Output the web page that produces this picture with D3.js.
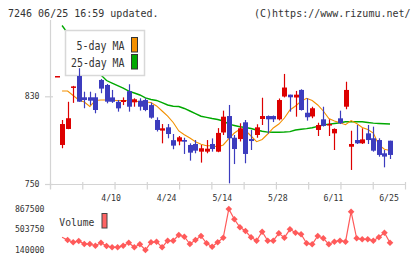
<!DOCTYPE html>
<html><head><meta charset="utf-8">
<script src="https://cdn.jsdelivr.net/npm/d3@7"></script>
<style>html,body{margin:0;padding:0;background:#fff;}svg{display:block;}</style>
</head><body>
<svg id="chart" width="420" height="259"></svg>
<script>
// ---- data ----
const dates = ["3/27","3/30","3/31","4/1","4/2","4/3","4/6","4/7","4/8","4/9","4/10","4/13","4/14","4/15","4/16","4/17","4/20","4/21","4/22","4/23","4/24","4/27","4/28","4/30","5/1","5/7","5/8","5/11","5/12","5/13","5/14","5/15","5/18","5/19","5/20","5/21","5/22","5/25","5/26","5/27","5/28","5/29","6/1","6/2","6/3","6/4","6/5","6/8","6/9","6/10","6/11","6/12","6/15","6/16","6/17","6/18","6/19","6/22","6/23","6/24","6/25"];
const openP  = [848,785.6,800.2,838,848.5,829.1,829.1,829.1,844.9,840.3,829,825,824.8,834.7,824.5,826,826.6,822,808.4,798.7,801.7,790,788.8,790.1,785.6,786.5,779.5,779.5,786.5,779.5,797,812,792.2,791,806.3,791,794.7,809.3,812,812,809,829.8,831.5,828.9,835.8,815,811.6,799.3,809,803.8,796.2,809.9,820.5,784,790.1,787.1,796.2,791.7,790.1,778,789.5];
const highP  = [848.5,808.4,825,839.5,855.6,834.2,834.2,832.8,845.8,841.2,835.8,826.6,829,841,828.2,828.2,828.2,824.2,810.8,804.7,804.7,795.6,793.8,792.2,787.1,790.1,785.6,790.1,791.6,801,816.9,822.1,794.7,805.4,808.4,799.3,804.5,828.7,812.5,812.5,828,850.4,831.5,834.9,836.4,828.2,820.5,805.9,820.5,809,800.8,816.9,843.3,798.6,803.8,800.8,803.8,802.3,791.7,781,789.5];
const lowP   = [848,782.6,800,824,825,819.1,822,814.5,832.8,823.6,824,816,822,816,820.5,817,816.4,809.6,797.9,787.1,791.7,781.7,785.3,777.4,771.3,778,769.5,778,779.5,779,794.7,750.6,768.2,788.8,768.9,781,792.2,803.8,796,806.5,808,829,816,811.4,817,807.8,810,793.8,802.4,793.8,781,804.7,818.2,762.8,786.5,786.5,786.5,779.5,774.9,765.2,772.8];
const closeP = [848.5,804.7,810,839,825.1,826.6,826,817.5,837,825.1,825,819,826.6,820.5,827.3,820.5,817.5,810.5,799.3,800.8,795.6,785,792.6,788.6,778.6,780.4,782.6,782.2,781.9,796.6,811.4,791.7,781.9,800.8,777.4,789.2,801.7,812,809,809,826.6,838,829.1,831.5,817.5,810.9,819.1,803.8,803,804.7,800.2,805.4,835.8,786.5,787.1,790.7,790.1,780.4,776.5,775,776.5];
const ma5  = [null,834.8,834.8,830.7,826.6,824.8,820.7,826.2,826.6,826.6,826.4,826.2,826.2,826.0,825.5,825.1,824.8,824.4,821.2,816.6,812.0,806.1,798.4,795.0,792.0,788.5,786.2,784.9,784.9,783.9,785.6,791.3,796.5,800.0,798.8,793.8,788.6,790.6,795.6,801.1,804.7,810.2,817.5,821.2,825.5,828.2,826.2,822.1,816.6,809.7,807.5,805.8,804.1,807.9,805.2,801.5,799.7,796.5,785.6,781.7,780.6];
const ma25 = [null,894.6,887.7,881.4,875.0,867.7,861.3,854.9,849.4,844.4,842.1,839.8,837.5,834.8,833.0,831.2,828.6,827.1,826.2,824.3,822.1,820.9,820.7,818.9,816.6,814.3,811.8,810.8,809.7,808.8,807.5,804.6,803.4,802.2,801.5,800.6,799.3,798.1,797.3,797.2,797.2,797.4,797.8,799.3,800.0,800.5,801.3,802.6,803.8,804.6,805.2,805.9,806.8,806.8,806.8,806.8,806.1,805.5,805.2,804.9,804.7];
const volume = [null,365300,317400,276600,299700,246500,246500,216300,269500,211000,187900,187900,216300,269500,187900,241100,140000,276600,287300,187900,305000,305000,406200,376000,246500,317400,388400,258900,198600,276600,358300,867500,684700,542800,477100,365300,305000,464700,305000,305000,436300,358300,507300,447000,418600,258900,241100,388400,347600,241100,287300,305000,287300,819600,347600,329900,329900,305000,365300,447000,269500];
const dateLabels = ["4/10","4/24","5/14","5/28","6/11","6/25"];
const priceTicks = [830, 750];
const volTicks = [867500, 503750, 140000];
const seriesNames = ["5-day MA","25-day MA"];
const titleLeft = "7246 06/25 16:59 updated.";
const titleRight = "(C)https://www.rizumu.net/";

// ---- drawing ----
const svg = d3.select("#chart");
svg.append("rect").attr("width",420).attr("height",259).attr("fill","#fff");
const mono = "'DejaVu Sans Mono', 'Liberation Mono', monospace";
const gridC = "#d4d4d4";
const upC = "#dd0000", downC = "#3c3cbe";
const orangeC = "#f39000", greenC = "#00a800";

const x = d3.scalePoint().domain(dates).range([56.5, 390]);
const y = d3.scaleLinear().domain([750, 830]).range([184, 96.3]);
const yv = d3.scaleLinear().domain([140000, 867500]).range([250, 209]);

// title
svg.append("text").attr("x",8).attr("y",16.5).attr("font-family",mono).attr("font-size",10)
  .attr("fill","#333").text(titleLeft);
svg.append("text").attr("x",254).attr("y",16.5).attr("font-family",mono).attr("font-size",10)
  .attr("fill","#333").text(titleRight);

// axes
const ax = svg.append("g").attr("stroke",gridC).attr("stroke-width",1.2).attr("fill","none");
ax.append("line").attr("x1",50.5).attr("x2",50.5).attr("y1",20).attr("y2",189);
ax.append("line").attr("x1",45).attr("x2",405.5).attr("y1",y(750)+0.5).attr("y2",y(750)+0.5);
const tickPos = d3.scaleLinear().domain([0,11]).range([50.5,405.5]);
d3.range(12).forEach(i=>{
  ax.append("line").attr("x1",tickPos(i)).attr("x2",tickPos(i)).attr("y1",182).attr("y2",189.5);
});
priceTicks.forEach(v=>{
  ax.append("line").attr("x1",45).attr("x2",53).attr("y1",y(v)+0.5).attr("y2",y(v)+0.5);
  svg.append("text").attr("x",39.5).attr("y",y(v)+2.8).attr("text-anchor","end")
    .attr("font-family",mono).attr("font-size",8.2).attr("fill","#333").text(v);
});
dateLabels.forEach(d=>{
  svg.append("text").attr("x",x(d)-1).attr("y",200.6).attr("text-anchor","middle")
    .attr("font-family",mono).attr("font-size",8.2).attr("fill","#333").text(d);
});

// MA lines
const idx = d3.range(dates.length);
const lineMa = arr => d3.line().defined(i=>arr[i]!=null).x(i=>x(dates[i])).y(i=>y(arr[i]));
svg.append("path").datum(idx).attr("d",lineMa(ma25)).attr("fill","none").attr("stroke",greenC).attr("stroke-width",1.4);
svg.append("path").datum(idx).attr("d",lineMa(ma5)).attr("fill","none").attr("stroke",orangeC).attr("stroke-width",1.1);

// legend (price)
const lg = svg.append("g");
lg.append("rect").attr("x",65.5).attr("y",30.5).attr("width",79).attr("height",45).attr("fill","#fff").attr("stroke","#d8d8d8").attr("stroke-width",1.5);
const swC = [orangeC, greenC];
seriesNames.forEach((n,k)=>{
  lg.append("text").attr("x",124.5).attr("y",50+k*16.7).attr("text-anchor","end")
    .attr("font-family",mono).attr("font-size",12).attr("textLength",k?53.5:48).attr("lengthAdjust","spacingAndGlyphs")
    .attr("fill","#333").text(n);
  lg.append("rect").attr("x",131.5).attr("y",37.5+k*17).attr("width",6).attr("height",14.5)
    .attr("fill",swC[k]).attr("stroke","#333").attr("stroke-width",1);
});

// candles (drawn over the legend, as in the reference)
const cg = svg.append("g");
idx.forEach(i=>{
  const up = closeP[i] >= openP[i];
  const col = up ? upC : downC;
  const cx = Math.round(x(dates[i]));
  cg.append("line").attr("x1",cx+0.5).attr("x2",cx+0.5).attr("y1",y(highP[i])).attr("y2",y(lowP[i]))
    .attr("stroke",col).attr("stroke-width",1.2);
  const top = y(Math.max(openP[i],closeP[i])), bot = y(Math.min(openP[i],closeP[i]));
  cg.append("rect").attr("x",cx-2).attr("width",5).attr("y",top).attr("height",Math.max(1.5,bot-top)).attr("fill",col);
});

// volume
volTicks.forEach(v=>{
  svg.append("text").attr("x",44.5).attr("y",yv(v)+2.8).attr("text-anchor","end")
    .attr("font-family",mono).attr("font-size",8.2).attr("fill","#333").text(v);
});
const volC = "#ff5a5a";
const vline = d3.line().defined(i=>volume[i]!=null).x(i=>x(dates[i])).y(i=>yv(volume[i]));
svg.append("path").datum(idx).attr("d",vline).attr("fill","none").attr("stroke",volC).attr("stroke-width",1.2);
idx.filter(i=>i>=2 && volume[i]!=null).forEach(i=>{
  const cx = x(dates[i]), cy = yv(volume[i]), r = 3.3;
  svg.append("path").attr("d",`M${cx},${cy-r}L${cx+r},${cy}L${cx},${cy+r}L${cx-r},${cy}Z`).attr("fill",volC);
});
svg.append("text").attr("x",59.3).attr("y",226).attr("font-family",mono).attr("font-size",10.5)
  .attr("textLength",35).attr("lengthAdjust","spacingAndGlyphs").attr("fill","#333").text("Volume");
svg.append("rect").attr("x",102).attr("y",213.5).attr("width",5).attr("height",14.5)
  .attr("fill","#ff6464").attr("stroke","#444").attr("stroke-width",1);
</script>
</body></html>
